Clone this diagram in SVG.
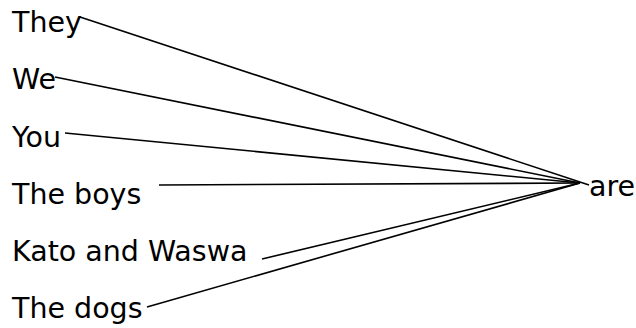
<svg xmlns="http://www.w3.org/2000/svg" width="636" height="328" viewBox="0 0 636 328">
<style>
text{font-family:"DejaVu Sans",Verdana,sans-serif;font-size:28.5px;fill:#000}
.c line{stroke:#000;stroke-width:1.6;fill:none}
</style>
<rect width="636" height="328" fill="#fff"/>
<g id="they"><text x="12" y="32">They</text></g>
<g id="we"><text x="12" y="89">We</text></g>
<g id="you"><text x="12" y="147">You</text></g>
<g id="boys"><text x="12" y="204">The boys</text></g>
<g id="kato"><text x="12" y="261">Kato and Waswa</text></g>
<g id="dogs"><text x="12" y="318">The dogs</text></g>
<g id="are"><text x="589" y="196">are</text></g>
<g class="c" id="connectors">
<line x1="80" y1="17" x2="589" y2="185"/>
<line x1="55" y1="77" x2="580" y2="183"/>
<line x1="65" y1="133" x2="580" y2="183"/>
<line x1="159" y1="185" x2="580" y2="183"/>
<line x1="262" y1="259" x2="580" y2="183"/>
<line x1="147" y1="307" x2="580" y2="183"/>
</g>
</svg>
